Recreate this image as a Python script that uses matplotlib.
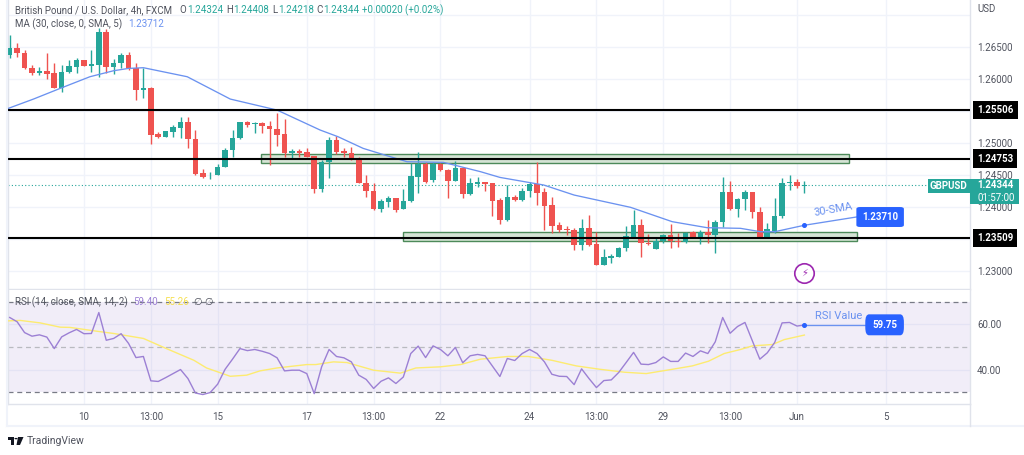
import matplotlib
matplotlib.use('Agg')
import matplotlib.pyplot as plt
from matplotlib.patches import Rectangle, Polygon, FancyBboxPatch

plt.rcParams['font.family'] = ['Roboto', 'DejaVu Sans']

opens = [1.2637,1.26474,1.26396,1.26172,1.26094,1.2612,1.26083,1.25849,1.26104,1.26187,1.26286,1.26203,1.26213,1.26734,1.26187,1.2624,1.2637,1.26172,1.25828,1.25854,
    1.2513,1.25083,1.25172,1.25234,1.25318,1.25052,1.24521,1.24505,1.24495,1.24625,1.24885,1.25073,1.25328,1.25286,1.25307,1.25266,1.25219,1.2513,1.24844,1.24865,
    1.24849,1.24792,1.24271,1.24693,1.25042,1.24865,1.24839,1.2474,1.24375,1.2425,1.23958,1.24078,1.24135,1.23958,1.24083,1.24469,1.24667,1.24417,1.24667,1.24573,
    1.24406,1.24604,1.24193,1.24359,1.24391,1.24365,1.24099,1.23792,1.24146,1.24104,1.24245,1.24354,1.24224,1.24021,1.23708,1.23651,1.2363,1.23401,1.23672,1.23412,
    1.23089,1.23203,1.23219,1.23354,1.23521,1.23708,1.23438,1.23339,1.23458,1.23557,1.23469,1.23453,1.23599,1.23516,1.23609,1.23563,1.23755,1.24224,1.23964,1.2412,
    1.24224,1.23922,1.23516,1.23625,1.23854,1.2437,1.24391,1.24324]
highs = [1.26682,1.26552,1.26448,1.26213,1.26187,1.26396,1.2624,1.26213,1.26292,1.26318,1.26292,1.26448,1.26786,1.26771,1.26302,1.26396,1.26422,1.2624,1.26172,1.25865,
    1.25161,1.25187,1.25276,1.25406,1.25406,1.25198,1.24583,1.24547,1.24667,1.24911,1.25198,1.25328,1.25344,1.25328,1.25318,1.25344,1.25469,1.25365,1.24901,1.24901,
    1.24911,1.24792,1.24729,1.25083,1.25104,1.24911,1.24927,1.24771,1.24495,1.24375,1.2412,1.24167,1.24141,1.24276,1.24688,1.24849,1.24703,1.24703,1.24677,1.24583,
    1.24714,1.24625,1.24443,1.24469,1.24391,1.24375,1.2413,1.24339,1.24182,1.24287,1.24391,1.24693,1.24287,1.24146,1.23766,1.23698,1.23662,1.23802,1.2387,1.23609,
    1.23333,1.23255,1.23375,1.23698,1.23948,1.23807,1.23573,1.23505,1.23573,1.23729,1.23583,1.23609,1.2362,1.23635,1.23792,1.23792,1.24469,1.24401,1.2413,1.2426,
    1.24234,1.24,1.2375,1.24141,1.24443,1.24495,1.24427,1.24408]
lows = [1.26318,1.26333,1.26146,1.26052,1.26052,1.2599,1.25849,1.25797,1.26094,1.26094,1.26198,1.26109,1.26031,1.26083,1.26073,1.26161,1.26135,1.25667,1.25693,1.24979,
    1.25068,1.25083,1.25094,1.25068,1.24922,1.24495,1.24453,1.24432,1.24495,1.24615,1.24781,1.25052,1.2525,1.25156,1.25156,1.24651,1.24953,1.24781,1.24766,1.24781,
    1.24771,1.24219,1.24234,1.24443,1.24823,1.24781,1.24729,1.24365,1.24156,1.23948,1.23922,1.2399,1.23922,1.23958,1.24078,1.24219,1.24365,1.2438,1.24563,1.24141,
    1.24401,1.24141,1.24182,1.24313,1.2425,1.23854,1.23729,1.23781,1.24094,1.24094,1.24156,1.24026,1.23635,1.23583,1.23609,1.23557,1.23323,1.23323,1.23385,1.23089,
    1.23089,1.23115,1.23208,1.23313,1.23505,1.23219,1.23401,1.23334,1.23438,1.23349,1.23365,1.23438,1.23505,1.23417,1.23438,1.23281,1.23677,1.23948,1.23833,1.23948,
    1.23818,1.23505,1.23505,1.23583,1.23818,1.2426,1.24287,1.24218]
closes = [1.26474,1.26396,1.26161,1.26094,1.2612,1.26078,1.25849,1.26111,1.26198,1.26286,1.26203,1.26224,1.26734,1.26187,1.2624,1.2637,1.26161,1.25823,1.25854,1.2512,
    1.25083,1.25177,1.25245,1.25318,1.25052,1.24505,1.24458,1.24516,1.24625,1.24891,1.25073,1.25328,1.25276,1.25307,1.25266,1.25214,1.2512,1.24844,1.24865,1.24844,
    1.24781,1.24271,1.24703,1.25042,1.24859,1.24833,1.24734,1.24375,1.24245,1.23958,1.24083,1.24135,1.23953,1.24083,1.24479,1.24661,1.2438,1.24667,1.24573,1.24406,
    1.24604,1.24198,1.24365,1.24385,1.24359,1.24094,1.23792,1.24146,1.24104,1.2425,1.24354,1.24219,1.24016,1.23703,1.23635,1.2363,1.23401,1.23672,1.23401,1.23089,
    1.23208,1.23224,1.23359,1.23537,1.23708,1.23427,1.23422,1.23458,1.23557,1.23458,1.23443,1.23589,1.23521,1.23609,1.23563,1.23755,1.24224,1.23964,1.2412,1.24224,
    1.23917,1.23516,1.23651,1.23859,1.24375,1.24391,1.24323,1.24344]

ma_idx = [-0.2,3.2,6.8,10.8,14,16,18,23.9,29.7,36,41.8,44.2,47.6,50.8,53.5,58.4,63.4,66,70.1,71.9,76,83.6,89.2,93.9,98.4,101.1,103]
ma_val = [1.25536,1.25682,1.25849,1.26031,1.26125,1.26161,1.26172,1.26031,1.25682,1.2551,1.25198,1.25094,1.24911,1.24797,1.24703,1.24693,1.24547,1.24458,1.24375,1.24339,1.24182,1.2399,1.23766,1.23672,1.23662,1.23609,1.23609]

rsi = [63.1,61.2,56.4,54.8,55.4,54.4,49.3,54.5,56.3,57.8,55.9,56,65.3,53,53.8,55.9,51.6,45.3,45.8,35,
    34.7,36.4,38.2,40,36,29.6,28.9,29.8,33.5,40.1,44.6,49.3,48.4,48.9,48.1,47.1,45.2,39.4,39.7,39.7,
    38.2,29.3,41.2,48.9,45.8,45.2,43.4,37.5,35.6,31.6,34.8,36.3,33.8,36.7,47.1,50.4,45.3,50.5,48.9,46.1,
    49.8,43,46.1,46.7,46.1,41.5,36.9,44.9,44,47.1,48.9,47.1,43.4,37.9,37,36.9,33.3,40.3,36,32,
    35.1,35.4,38.7,43.1,47.6,42.4,42.2,43.1,45.6,43.6,43.6,47.3,45.8,48.3,47.1,52.3,63.1,56.1,59.1,60.9,
    52.7,44.6,47.4,52,60.7,60.9,59.3,59.75]

rsi_ma_idx = [-0.2,1.4,4.1,6.8,8.1,11.3,14,18,21.1,24.8,26.5,29.7,31.9,33.7,36,40,41.2,43.6,45.4,49,52.6,54.7,58,60.7,63.4,67.1,69.8,73,76.3,79.5,82.8,85.7,89.2,91.9,94.1,96.2,98.4,100,102.7,104.3,107]
rsi_ma_val = [61.6,61.8,60.7,58.8,58.7,57.2,56,53.8,49.3,44.1,40.7,37,37.5,39.4,40.7,42.2,42.2,43.4,43.1,39.7,38.4,40.7,41.2,42.2,44.6,45.8,45.8,44.1,41.6,40.1,38.8,38.2,40.1,41.6,43.7,47.1,48.9,50.5,51.1,53.3,55.3]

level_vals = [1.25506, 1.24753, 1.23509]
level_text = ['1.25506', '1.24753', '1.23509']
price_grid = [1.27, 1.265, 1.26, 1.255, 1.25, 1.245, 1.24, 1.235, 1.23]
time_pos = [10, 19, 28, 40, 49, 58, 70, 79, 88, 97, 106, 118]
time_lab = ['10', '13:00', '15', '17', '13:00', '22', '24', '13:00', '29', '13:00', 'Jun', '5']
rsi_ticks = [60, 40]
zone_top = [1.24818, 1.24682, 33.9, 113.0]
zone_bot = [1.23599, 1.23469, 53.0, 114.1]
last_price = 1.24344

W, H = 1024, 455
RED = '#ef5350'
GREEN = '#26a69a'
BLUE = '#2962ff'
LINE_BLUE = '#6b92f0'
GREY = '#50535e'
GRID = '#f0f3fa'
EDGE = '#e0e3eb'
XLIM = (-0.23, 129.3)
FS = 7

def fx(x):
    return x / W

def fy(y):
    return 1 - y / H

fig = plt.figure(figsize=(W / 100, H / 100), dpi=100, facecolor='white')
ax = fig.add_axes([fx(8), fy(289), fx(962), 289 / H])
ax2 = fig.add_axes([fx(8), fy(404), fx(962), 114 / H])

ax.set_xlim(*XLIM)
ax.set_ylim(1.22714, 1.2723)
ax2.set_xlim(*XLIM)
ax2.set_ylim(24.7, 75.3)

for a in (ax, ax2):
    a.set_axisbelow(True)
    a.set_xticks(time_pos)
    a.grid(True, color=GRID, lw=1)
    for s in a.spines.values():
        s.set_color(EDGE)
        s.set_linewidth(1)
    a.spines['top'].set_visible(False)
    a.yaxis.tick_right()
    a.tick_params(length=0, labelsize=FS, labelcolor=GREY)

ax.set_yticks(price_grid)
ax.set_yticklabels(['' if p in (1.27, 1.255, 1.235) else '%.5f' % p for p in price_grid])
ax.tick_params(axis='y', pad=5)
ax.set_xticklabels([])

# candles
idx = list(range(len(opens)))
colors = [GREEN if c >= o else RED for o, c in zip(opens, closes)]
ax.vlines(idx, lows, highs, colors=colors, lw=1, zorder=3)
ax.bar(idx, [max(abs(c - o), 0.00004) for o, c in zip(opens, closes)],
       bottom=[min(o, c) for o, c in zip(opens, closes)],
       width=0.75, color=colors, lw=0, zorder=4)

ax.plot(ma_idx, ma_val, color=LINE_BLUE, lw=0.95, zorder=5)
ax.axhline(last_price, color=GREEN, lw=0.8, ls=(0, (1, 2)), zorder=2)

# support / resistance
for z in (zone_top, zone_bot):
    ax.add_patch(Rectangle((z[2], z[1]), z[3] - z[2], z[0] - z[1], fc='#d5e4d5', ec='#4d8a5a',
                           lw=1, zorder=2.5))
for v in level_vals:
    ax.axhline(v, color='black', lw=1.5, zorder=6)

yt = ax.get_yaxis_transform()
for v, t in zip(level_vals, level_text):
    ax.text(1.0074, v, t, transform=yt, color='white', fontsize=FS, fontweight='bold', va='center',
            ha='left', clip_on=False, zorder=9,
            bbox=dict(boxstyle='square,pad=0.42', fc='black', ec='none'))

# last price tags
ax.add_patch(Rectangle((1.0, 1.2404), 0.0506, 0.0039, transform=yt, fc=GREEN, ec='none', clip_on=False, zorder=8))
ax.add_patch(Rectangle((0.956, 1.2422), 0.044, 0.00215, transform=yt, fc=GREEN, ec='none', clip_on=False, zorder=8))
ax.text(0.978, 1.24328, 'GBPUSD', transform=yt, color='white', fontsize=FS, fontweight='bold', ha='center', va='center', zorder=9)
ax.text(1.0074, 1.24344, '1.24344', transform=yt, color='white', fontsize=FS, fontweight='bold', va='center', clip_on=False, zorder=9)
ax.text(1.0074, 1.24135, '01:57:00', transform=yt, color='white', fontsize=FS, va='center', clip_on=False, zorder=9)

# 30-SMA callout
ax.plot([103, 107, 114], [1.23609, 1.2371, 1.23839], color=LINE_BLUE, lw=0.95, zorder=7)
ax.plot([107], [1.2371], 'o', color=BLUE, ms=2.6, zorder=7)
ax.text(110.9, 1.2396, '30-SMA', color=LINE_BLUE, fontsize=8, rotation=10, ha='center', va='center', zorder=7)
ax.add_patch(FancyBboxPatch((114, 1.23683), 6.4, 0.00312, boxstyle='round,pad=0,rounding_size=0.5',
                            mutation_aspect=0.0006, fc=BLUE, ec='none', zorder=8))
ax.text(117.2, 1.23839, '1.23710', color='white', fontsize=FS, fontweight='bold', ha='center', va='center', zorder=9)

# earnings style flash mark
ax.plot([107], [1.22968], 'o', mfc='white', mec='#9c27b0', mew=1.2, ms=14, zorder=7)
ax.text(107, 1.22968, '\u26a1', color='#9c27b0', fontsize=7, family='DejaVu Sans', ha='center', va='center', zorder=8)

# RSI pane
ax2.axhspan(30, 70, color='#7e57c2', alpha=0.1, lw=0, zorder=1)
ax2.axhline(70, color='#787b86', lw=0.9, ls=(0, (4, 3)), zorder=2)
ax2.axhline(50, color='#b9bac0', lw=0.9, ls=(0, (4, 3)), zorder=2)
ax2.axhline(30, color='#787b86', lw=0.9, ls=(0, (4, 3)), zorder=2)
ax2.plot(idx, rsi, color='#9c80d4', lw=1, zorder=4)
ax2.plot(rsi_ma_idx, rsi_ma_val, color='#fdeb70', lw=1, zorder=3)
ax2.set_yticks(rsi_ticks)
ax2.set_yticklabels(['%.2f' % v for v in rsi_ticks])
ax2.tick_params(axis='y', pad=5)
ax2.set_xticklabels(time_lab)
ax2.tick_params(axis='x', pad=6)

ax2.plot([107, 115.2], [59.75, 59.75], color=LINE_BLUE, lw=0.95, zorder=6)
ax2.plot([107], [59.75], 'o', color=BLUE, ms=2.6, zorder=6)
ax2.text(111.6, 63.7, 'RSI Value', color=LINE_BLUE, fontsize=8, ha='center', va='center', zorder=6)
ax2.add_patch(FancyBboxPatch((115.2, 55.2), 5.2, 9.3, boxstyle='round,pad=0,rounding_size=0.5',
                             mutation_aspect=7, fc=BLUE, ec='none', zorder=7))
ax2.text(117.8, 59.75, '59.75', color='white', fontsize=FS, fontweight='bold', ha='center', va='center', zorder=8)

# legend lines
def label(x, y, s, color=GREY, size=FS):
    fig.text(fx(x), fy(y), s, color=color, fontsize=size, va='center', ha='left', zorder=10)

label(15, 10, 'British Pound / U.S. Dollar, 4h, FXCM')
label(179, 10, 'O')
label(187, 10, '1.24324', GREEN)
label(226, 10, 'H')
label(233, 10, '1.24408', GREEN)
label(272, 10, 'L')
label(278, 10, '1.24218', GREEN)
label(316, 10, 'C')
label(323, 10, '1.24344', GREEN)
label(362, 10, '+0.00020 (+0.02%)', GREEN)
label(15, 24, 'MA (30, close, 0, SMA, 5)')
label(128, 24, '1.23712', LINE_BLUE)
label(15, 302, 'RSI (14, close, SMA, 14, 2)')
label(133, 302, '59.40', '#9c80d4')
label(164, 302, '55.26', '#f5df4d')
label(193, 302, '\u2205')
label(204, 302, '\u2205')
label(977, 9, 'USD')

# bottom frame and logo
fig.add_artist(plt.Line2D([fx(7), fx(1024)], [fy(426), fy(426)], color=GRID, lw=1.5))
fig.add_artist(plt.Line2D([fx(7), fx(7)], [fy(0), fy(426)], color=GRID, lw=1.5))
fig.add_artist(plt.Line2D([fx(970), fx(970)], [fy(404), fy(426)], color=EDGE, lw=1))
fig.add_artist(Polygon([(fx(8), fy(437)), (fx(14), fy(437)), (fx(14), fy(445)), (fx(11), fy(445)),
                        (fx(11), fy(440)), (fx(8), fy(440))], fc='#131722', ec='none', transform=fig.transFigure))
fig.add_artist(Polygon([(fx(18), fy(437)), (fx(23.5), fy(437)), (fx(20), fy(445)), (fx(16.5), fy(445))],
                       fc='#131722', ec='none', transform=fig.transFigure))
fig.add_artist(plt.Circle((fx(16), fy(438.6)), 1.6 / W, fc='#131722', ec='none', transform=fig.transFigure))
label(27, 441, 'TradingView', GREY, 7.5)

fig.savefig('out.png', dpi=100)
